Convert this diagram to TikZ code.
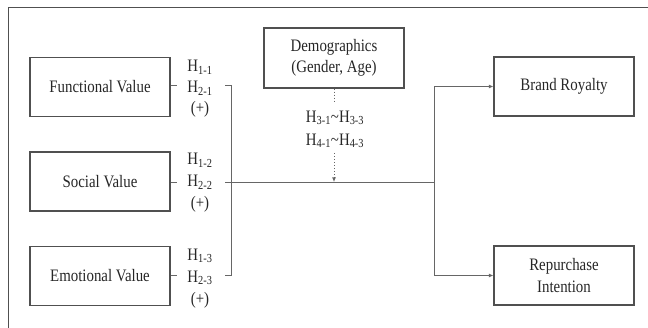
\documentclass[tikz,border=0pt]{standalone}
\usepackage{fontspec}
\setmainfont[FakeStretch=0.85]{Liberation Serif}
\usetikzlibrary{arrows.meta}
\definecolor{boxc}{HTML}{505050}
\definecolor{linec}{HTML}{666666}
\definecolor{textc}{HTML}{262626}
\newcommand{\mainsz}{\fontsize{17.5}{21.5}\selectfont}
\begin{document}
\begin{tikzpicture}[x=1pt,y=-1pt,
  box/.style={draw=boxc, line width=1.1pt, minimum width=140pt, minimum height=59pt,
    inner sep=0pt, align=center, font=\mainsz, text=textc},
  lbl/.style={align=center, inner sep=0pt, font=\mainsz, text=textc},
  conn/.style={draw=linec, line width=0.9pt},
  tip/.style={-{Latex[length=4.5pt,width=4pt]}},
  dots/.style={dash pattern=on 1.5pt off 1.5pt}]
\useasboundingbox (0,0) rectangle (648,328);
\draw[boxc, line width=1pt] (648,8) -- (8,8) -- (8,328);

% boxes
\node[box] (fv) at (100,87) {Functional Value};
\node[box] (sv) at (100,181.5) {Social Value};
\node[box] (ev) at (100,276) {Emotional Value};
\node[box, minimum height=60pt] (demo) at (334,58) {Demographics\\(Gender, Age)};
\node[box] (br) at (564,86.5) {Brand Royalty};
\node[box] (ri) at (564,275.5) {Repurchase\\Intention};

% hypothesis labels
\node[lbl] (h11) at (200,67) {H\textsubscript{1-1}};
\node[lbl] (h21) at (200,88) {H\textsubscript{2-1}};
\node[lbl] (p1)  at (200,109) {(+)};
\node[lbl] (h12) at (200,160) {H\textsubscript{1-2}};
\node[lbl] (h22) at (200,182) {H\textsubscript{2-2}};
\node[lbl] (p2)  at (200,204) {(+)};
\node[lbl] (h13) at (200,256) {H\textsubscript{1-3}};
\node[lbl] (h23) at (200,278) {H\textsubscript{2-3}};
\node[lbl] (p3)  at (200,300) {(+)};
\node[lbl] (h3) at (335,118) {H\textsubscript{3-1}\textasciitilde H\textsubscript{3-3}};
\node[lbl] (h4) at (335,141) {H\textsubscript{4-1}\textasciitilde H\textsubscript{4-3}};

% coordinates
\coordinate (d1) at (177,85);
\coordinate (d2) at (177,182);
\coordinate (d3) at (177,275);
\coordinate (b1) at (225,85);
\coordinate (b1r) at (231,85);
\coordinate (b2) at (225,182);
\coordinate (b3) at (225,275);
\coordinate (b3r) at (231,275);
\coordinate (j2) at (434,182);
\coordinate (dm1) at (334,101);
\coordinate (dm2) at (334,153);
\coordinate (dm3) at (334,182);

% connectors
\draw[conn] (fv.east |- d1) -- (d1);
\draw[conn] (sv.east |- d2) -- (d2);
\draw[conn] (ev.east |- d3) -- (d3);
\draw[conn] (b1) -- (b1r) -- (b3r) -- (b3);
\draw[conn] (b2) -- (j2);
\draw[conn, tip] (j2) -- (j2 |- br.west) -- (br.west);
\draw[conn, tip] (j2) -- (j2 |- ri.west) -- (ri.west);
\draw[conn, dots] (demo.south) -- (dm1);
\draw[conn, dots, tip] (dm2) -- (dm3);
\end{tikzpicture}
\end{document}
